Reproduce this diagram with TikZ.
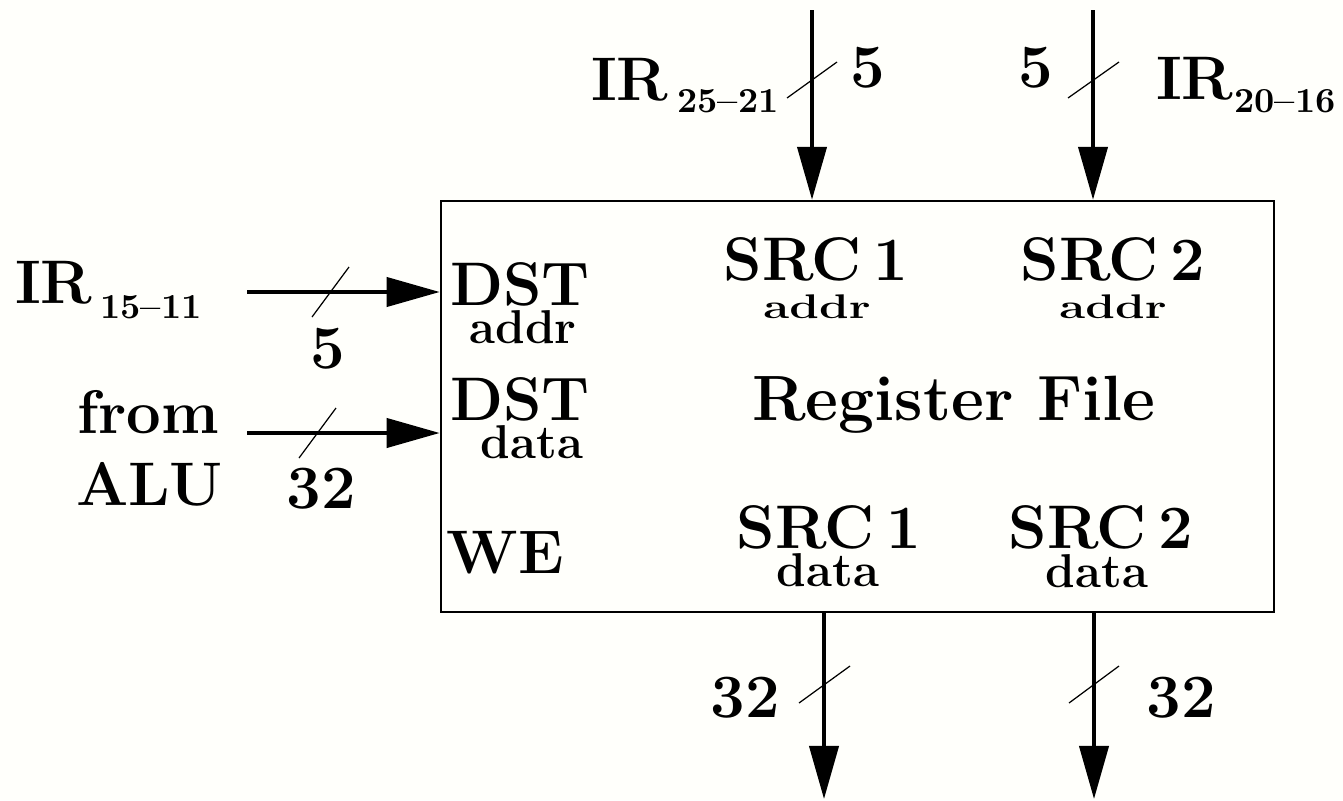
\documentclass[tikz,border=0pt]{standalone}
\usepackage{fontspec}
\usetikzlibrary{arrows.meta}
\definecolor{bgcol}{RGB}{255,255,251}
\newcommand{\bigf}{\fontsize{17.5}{21}\selectfont\bfseries}
\newcommand{\smallf}{\fontsize{13.5}{16}\selectfont\bfseries}
\newcommand{\subf}{\fontsize{10}{12}\selectfont\bfseries}
\newcommand{\squash}[1]{\scalebox{1}[0.72]{#1}}
\begin{document}
\begin{tikzpicture}[x=0.01cm,y=-0.01cm,
  lbl/.style={inner sep=0pt,outer sep=0pt,anchor=base,font=\bigf},
  lblw/.style={inner sep=0pt,outer sep=0pt,anchor=base west,font=\bigf},
  sml/.style={inner sep=0pt,outer sep=0pt,anchor=base,font=\smallf},
  bus/.style={line width=1.15pt,-{Triangle[length=5.3mm,width=2.9mm]}},
  slash/.style={line width=0.35pt},
  regbox/.style={draw,line width=0.6pt,inner sep=0pt,minimum width=8.33cm,minimum height=4.11cm}]
\fill[bgcol] (0,0) rectangle (1343,800);
\useasboundingbox (0,0) rectangle (1343,800);

% register file box
\node[regbox] (rf) at (857.5,406.5) {};

% end points
\coordinate (t1) at (812,10);
\coordinate (t2) at (1093,10);
\coordinate (l1) at (247,292);
\coordinate (l2) at (247,433);
\coordinate (b1) at (824,799);
\coordinate (b2) at (1094,799);

% buses
\draw[bus] (t1) -- (t1 |- rf.north);
\draw[bus] (t2) -- (t2 |- rf.north);
\draw[bus] (l1) -- (l1 -| rf.west);
\draw[bus] (l2) -- (l2 -| rf.west);
\draw[bus] (b1 |- rf.south) -- (b1);
\draw[bus] (b2 |- rf.south) -- (b2);

% bus-width slashes
\draw[slash] (787,98) -- (837,62);
\draw[slash] (1068,98) -- (1119,62);
\draw[slash] (312,317) -- (349,267);
\draw[slash] (299,458) -- (336,408);
\draw[slash] (799,703) -- (850,666);
\draw[slash] (1069,703) -- (1119,666);

% outside labels
\node[lblw] (ir25) at (591,100) {IR\hspace{0.9mm}\raisebox{-1.25mm}{\subf 25--21}};
\node[lblw] (ir20) at (1156,99) {IR\hspace{0.1mm}\raisebox{-1.3mm}{\subf 20--16}};
\node[lblw] (ir15) at (15,303) {IR\hspace{0.8mm}\raisebox{-1.5mm}{\subf 15--11}};
\node[lbl] (w1) at (868,87) {5};
\node[lbl] (w2) at (1036,87) {5};
\node[lbl] (w3) at (328,368) {5};
\node[lbl] (w4) at (321,508) {32};
\node[lbl] (w5) at (745,717) {32};
\node[lbl] (w6) at (1181,717) {32};
\node[lblw] (from) at (77,433) {from};
\node[lblw] (alu) at (76,505) {ALU};

% inside labels
\node[lbl] (dst1) at (520,305) {DST};
\node[sml] (dst1a) at (523,343) {addr};
\node[lbl] (dst2) at (520,420) {DST};
\node[sml] (dst2d) at (532,458) {data};
\node[lbl] (we) at (505,573) {WE};
\node[lbl] (s1a) at (816,280) {SRC\hspace{1.2mm}1};
\node[sml] (s1aa) at (817,318) {\squash{addr}};
\node[lbl] (s2a) at (1113,280) {SRC\hspace{1.2mm}2};
\node[sml] (s2aa) at (1113,318) {\squash{addr}};
\node[lbl, font=\fontsize{18.2}{21}\selectfont\bfseries] (rft) at (954,420) {Register File};
\node[lbl] (s1d) at (829,548) {SRC\hspace{1.2mm}1};
\node[sml] (s1dd) at (828,586) {data};
\node[lbl] (s2d) at (1101,548) {SRC\hspace{1.2mm}2};
\node[sml] (s2dd) at (1097,587) {data};
\end{tikzpicture}
\end{document}
